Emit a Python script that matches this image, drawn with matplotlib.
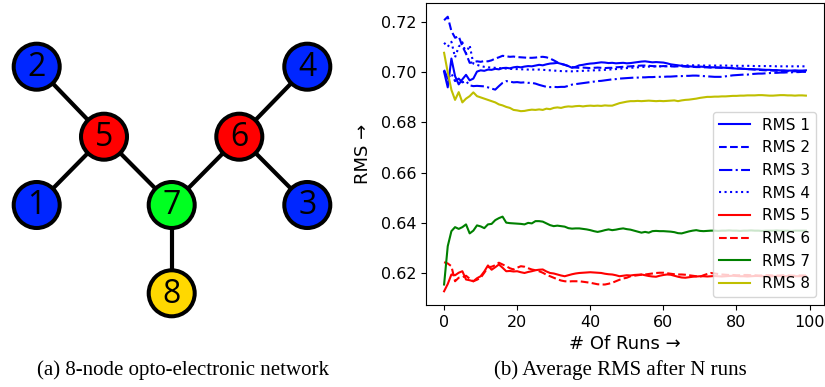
import matplotlib
matplotlib.use("Agg")
import matplotlib.pyplot as plt
from matplotlib.patches import Circle

# ---------------- data ----------------
runs = list(range(100))

rms1 = [0.7002, 0.6940, 0.7055, 0.6985, 0.6952, 0.6972, 0.6990, 0.6968, 0.6975, 0.7003,
        0.7008, 0.7006, 0.7011, 0.7010, 0.7014, 0.7012, 0.7017, 0.7018, 0.7016, 0.7020,
        0.7022, 0.7020, 0.7023, 0.7025, 0.7024, 0.7027, 0.7030, 0.7028, 0.7032, 0.7035,
        0.7036, 0.7038, 0.7034, 0.7030, 0.7025, 0.7018, 0.7022, 0.7028, 0.7030, 0.7033,
        0.7035, 0.7036, 0.7038, 0.7040, 0.7039, 0.7037, 0.7038, 0.7036, 0.7037, 0.7038,
        0.7036, 0.7037, 0.7039, 0.7041, 0.7043, 0.7044, 0.7042, 0.7040, 0.7041, 0.7040,
        0.7039, 0.7036, 0.7032, 0.7030, 0.7028, 0.7026, 0.7025, 0.7024, 0.7023, 0.7022,
        0.7023, 0.7022, 0.7021, 0.7020, 0.7020, 0.7019, 0.7019, 0.7018, 0.7017, 0.7016,
        0.7015, 0.7015, 0.7014, 0.7013, 0.7013, 0.7012, 0.7012, 0.7011, 0.7010, 0.7010,
        0.7009, 0.7009, 0.7008, 0.7008, 0.7007, 0.7007, 0.7008, 0.7007, 0.7007, 0.7008]

rms2 = [0.7208, 0.7222, 0.7165, 0.7138, 0.7144, 0.7104, 0.7075, 0.7038, 0.7040, 0.7044,
        0.7042, 0.7045, 0.7044, 0.7048, 0.7055, 0.7060, 0.7066, 0.7064, 0.7062, 0.7063,
        0.7061, 0.7060, 0.7059, 0.7058, 0.7058, 0.7059, 0.7061, 0.7062, 0.7060, 0.7055,
        0.7048, 0.7040, 0.7034, 0.7030, 0.7025, 0.7021, 0.7019, 0.7018, 0.7019, 0.7018,
        0.7017, 0.7018, 0.7019, 0.7018, 0.7017, 0.7018, 0.7018, 0.7020, 0.7021, 0.7022,
        0.7023, 0.7024, 0.7025, 0.7026, 0.7027, 0.7027, 0.7026, 0.7025, 0.7024, 0.7024,
        0.7025, 0.7024, 0.7024, 0.7023, 0.7024, 0.7024, 0.7023, 0.7022, 0.7022, 0.7021,
        0.7021, 0.7020, 0.7020, 0.7019, 0.7019, 0.7019, 0.7018, 0.7018, 0.7018, 0.7017,
        0.7016, 0.7015, 0.7014, 0.7013, 0.7012, 0.7011, 0.7010, 0.7009, 0.7008, 0.7008,
        0.7007, 0.7006, 0.7006, 0.7005, 0.7005, 0.7004, 0.7004, 0.7004, 0.7004, 0.7004]

rms3 = [0.7010, 0.6975, 0.6995, 0.6965, 0.6975, 0.6960, 0.6965, 0.6948, 0.6945, 0.6946,
        0.6945, 0.6944, 0.6940, 0.6935, 0.6931, 0.6945, 0.6958, 0.6965, 0.6963, 0.6960,
        0.6961, 0.6959, 0.6960, 0.6958, 0.6958, 0.6955, 0.6950, 0.6946, 0.6942, 0.6941,
        0.6942, 0.6941, 0.6942, 0.6942, 0.6946, 0.6951, 0.6953, 0.6955, 0.6957, 0.6959,
        0.6961, 0.6963, 0.6965, 0.6966, 0.6968, 0.6970, 0.6972, 0.6973, 0.6975, 0.6976,
        0.6977, 0.6978, 0.6979, 0.6979, 0.6980, 0.6980, 0.6981, 0.6981, 0.6982, 0.6982,
        0.6982, 0.6983, 0.6983, 0.6984, 0.6985, 0.6985, 0.6986, 0.6986, 0.6987, 0.6987,
        0.6986, 0.6985, 0.6984, 0.6983, 0.6982, 0.6982, 0.6982, 0.6984, 0.6986, 0.6988,
        0.6989, 0.6990, 0.6991, 0.6991, 0.6993, 0.6994, 0.6995, 0.6995, 0.6996, 0.6997,
        0.6998, 0.6998, 0.6999, 0.6999, 0.7000, 0.7000, 0.7001, 0.7001, 0.7002, 0.7002]

rms4 = [0.7118, 0.7102, 0.7122, 0.7060, 0.7102, 0.7120, 0.7075, 0.7108, 0.7035, 0.7030,
        0.7025, 0.7022, 0.7020, 0.7019, 0.7018, 0.7017, 0.7016, 0.7015, 0.7014, 0.7013,
        0.7013, 0.7012, 0.7012, 0.7011, 0.7011, 0.7011, 0.7011, 0.7010, 0.7009, 0.7008,
        0.7007, 0.7006, 0.7005, 0.7005, 0.7004, 0.7004, 0.7005, 0.7005, 0.7006, 0.7007,
        0.7007, 0.7008, 0.7008, 0.7009, 0.7010, 0.7011, 0.7012, 0.7013, 0.7014, 0.7016,
        0.7017, 0.7018, 0.7019, 0.7020, 0.7021, 0.7022, 0.7023, 0.7023, 0.7024, 0.7024,
        0.7024, 0.7025, 0.7025, 0.7026, 0.7026, 0.7027, 0.7027, 0.7028, 0.7028, 0.7028,
        0.7028, 0.7027, 0.7027, 0.7027, 0.7027, 0.7027, 0.7027, 0.7027, 0.7027, 0.7026,
        0.7026, 0.7026, 0.7026, 0.7026, 0.7026, 0.7025, 0.7025, 0.7025, 0.7025, 0.7025,
        0.7025, 0.7024, 0.7024, 0.7024, 0.7024, 0.7024, 0.7024, 0.7024, 0.7024, 0.7024]

rms5 = [0.6126, 0.6155, 0.6193, 0.6190, 0.6200, 0.6206, 0.6173, 0.6170, 0.6166, 0.6178,
        0.6186, 0.6205, 0.6229, 0.6212, 0.6222, 0.6233, 0.6220, 0.6206, 0.6207, 0.6205,
        0.6206, 0.6202, 0.6199, 0.6203, 0.6206, 0.6210, 0.6212, 0.6213, 0.6205, 0.6199,
        0.6197, 0.6193, 0.6189, 0.6186, 0.6190, 0.6194, 0.6197, 0.6199, 0.6200, 0.6201,
        0.6202, 0.6201, 0.6200, 0.6199, 0.6196, 0.6194, 0.6193, 0.6190, 0.6186, 0.6188,
        0.6190, 0.6189, 0.6191, 0.6192, 0.6193, 0.6190, 0.6187, 0.6185, 0.6184, 0.6188,
        0.6191, 0.6193, 0.6192, 0.6188, 0.6184, 0.6181, 0.6180, 0.6182, 0.6184, 0.6185,
        0.6186, 0.6186, 0.6185, 0.6186, 0.6187, 0.6186, 0.6185, 0.6186, 0.6187, 0.6188,
        0.6187, 0.6186, 0.6186, 0.6185, 0.6186, 0.6187, 0.6187, 0.6186, 0.6186, 0.6185,
        0.6186, 0.6186, 0.6187, 0.6186, 0.6186, 0.6185, 0.6186, 0.6186, 0.6186, 0.6186]

rms6 = [0.6242, 0.6237, 0.6226, 0.6166, 0.6180, 0.6182, 0.6188, 0.6176, 0.6166, 0.6172,
        0.6180, 0.6200, 0.6222, 0.6224, 0.6230, 0.6240, 0.6233, 0.6226, 0.6218, 0.6213,
        0.6220, 0.6226, 0.6224, 0.6218, 0.6213, 0.6210, 0.6206, 0.6200, 0.6192, 0.6186,
        0.6180, 0.6174, 0.6169, 0.6166, 0.6165, 0.6166, 0.6166, 0.6166, 0.6164, 0.6162,
        0.6160, 0.6157, 0.6154, 0.6153, 0.6153, 0.6156, 0.6160, 0.6166, 0.6172, 0.6177,
        0.6180, 0.6186, 0.6188, 0.6190, 0.6192, 0.6193, 0.6195, 0.6197, 0.6199, 0.6200,
        0.6200, 0.6198, 0.6196, 0.6194, 0.6193, 0.6193, 0.6192, 0.6190, 0.6188, 0.6186,
        0.6184, 0.6190, 0.6195, 0.6199, 0.6197, 0.6195, 0.6193, 0.6192, 0.6191, 0.6191,
        0.6190, 0.6190, 0.6191, 0.6191, 0.6190, 0.6190, 0.6189, 0.6189, 0.6190, 0.6190,
        0.6189, 0.6189, 0.6189, 0.6190, 0.6189, 0.6189, 0.6188, 0.6189, 0.6189, 0.6189]

rms7 = [0.6153, 0.6306, 0.6366, 0.6382, 0.6375, 0.6382, 0.6393, 0.6357, 0.6368, 0.6389,
        0.6385, 0.6378, 0.6393, 0.6395, 0.6410, 0.6418, 0.6424, 0.6400, 0.6398, 0.6397,
        0.6396, 0.6395, 0.6393, 0.6399, 0.6397, 0.6406, 0.6406, 0.6404, 0.6397, 0.6390,
        0.6386, 0.6388, 0.6386, 0.6384, 0.6378, 0.6376, 0.6377, 0.6377, 0.6375, 0.6373,
        0.6370, 0.6366, 0.6363, 0.6366, 0.6370, 0.6373, 0.6370, 0.6372, 0.6375, 0.6377,
        0.6374, 0.6372, 0.6368, 0.6364, 0.6360, 0.6363, 0.6360, 0.6366, 0.6367, 0.6366,
        0.6366, 0.6365, 0.6364, 0.6362, 0.6358, 0.6357, 0.6361, 0.6365, 0.6368, 0.6370,
        0.6367, 0.6366, 0.6367, 0.6368, 0.6368, 0.6367, 0.6368, 0.6368, 0.6369, 0.6368,
        0.6368, 0.6367, 0.6368, 0.6368, 0.6369, 0.6368, 0.6368, 0.6367, 0.6368, 0.6368,
        0.6368, 0.6369, 0.6368, 0.6368, 0.6368, 0.6367, 0.6368, 0.6368, 0.6368, 0.6368]

rms8 = [0.7078, 0.7000, 0.6930, 0.6890, 0.6921, 0.6880, 0.6895, 0.6905, 0.6920, 0.6905,
        0.6900, 0.6895, 0.6890, 0.6885, 0.6880, 0.6872, 0.6868, 0.6862, 0.6858, 0.6850,
        0.6848, 0.6845, 0.6846, 0.6849, 0.6851, 0.6850, 0.6852, 0.6850, 0.6855, 0.6853,
        0.6858, 0.6860, 0.6858, 0.6862, 0.6864, 0.6863, 0.6865, 0.6866, 0.6864, 0.6866,
        0.6867, 0.6866, 0.6867, 0.6866, 0.6868, 0.6867, 0.6867, 0.6872, 0.6877, 0.6880,
        0.6883, 0.6885, 0.6885, 0.6886, 0.6885, 0.6886, 0.6887, 0.6886, 0.6885, 0.6886,
        0.6885, 0.6886, 0.6887, 0.6888, 0.6885, 0.6888, 0.6890, 0.6891, 0.6893, 0.6895,
        0.6898, 0.6900, 0.6902, 0.6902, 0.6903, 0.6903, 0.6904, 0.6904, 0.6905, 0.6906,
        0.6906, 0.6907, 0.6907, 0.6908, 0.6908, 0.6908, 0.6909, 0.6909, 0.6908, 0.6907,
        0.6907, 0.6908, 0.6909, 0.6909, 0.6908, 0.6908, 0.6907, 0.6908, 0.6908, 0.6907]

series_labels = ["RMS 1", "RMS 2", "RMS 3", "RMS 4", "RMS 5", "RMS 6", "RMS 7", "RMS 8"]
series_values = [rms1, rms2, rms3, rms4, rms5, rms6, rms7, rms8]

# network
node_names = ["1", "2", "3", "4", "5", "6", "7", "8"]
node_x = [36.7, 36.7, 307.3, 307.3, 104.0, 239.3, 171.7, 171.7]
node_y = [205.0, 66.7, 205.0, 66.7, 136.7, 136.7, 205.0, 293.3]
node_group = ["blue", "blue", "blue", "blue", "red", "red", "green", "yellow"]
edges = [("2", "5"), ("1", "5"), ("5", "7"), ("6", "7"), ("4", "6"), ("3", "6"), ("7", "8")]

# ---------------- styles ----------------
W, H = 825, 387
fig = plt.figure(figsize=(W / 100, H / 100), dpi=100)

styles = [("b", "-"), ("b", "--"), ("b", "-."), ("b", ":"),
          ("r", "-"), ("r", "--"), ("g", "-"), ("y", "-")]

# ---- right: line chart
ax = fig.add_axes([426 / W, 1 - 305 / H, 398 / W, 302 / H])
for vals, lab, (c, ls) in zip(series_values, series_labels, styles):
    ax.plot(runs, vals, color=c, linestyle=ls, linewidth=1.5, label=lab)
ax.set_xticks([0, 20, 40, 60, 80, 100])
ax.set_yticks([0.62, 0.64, 0.66, 0.68, 0.70, 0.72])
ax.tick_params(labelsize=11.5)
ax.set_xlabel("# Of Runs \u2192", fontsize=13, labelpad=4)
ax.set_ylabel("RMS \u2192", fontsize=13, labelpad=6)
ax.legend(loc="lower right", fontsize=11, handlelength=2.0)

# ---- left: network diagram
axn = fig.add_axes([0, 1 - 330 / H, 340 / W, 330 / H])
axn.set_xlim(0, 340)
axn.set_ylim(330, 0)
axn.axis("off")
fill = {"blue": "#0026ff", "red": "#ff0000", "green": "#00ff21", "yellow": "#ffd800"}
pos = {n: (x, y) for n, x, y in zip(node_names, node_x, node_y)}
for a, b in edges:
    axn.plot([pos[a][0], pos[b][0]], [pos[a][1], pos[b][1]], color="black",
             linewidth=3.0, solid_capstyle="butt", zorder=1)
for n, x, y, g in zip(node_names, node_x, node_y, node_group):
    axn.add_patch(Circle((x, y), 23, facecolor=fill[g], edgecolor="black",
                         linewidth=2.9, zorder=2))
    axn.text(x, y + 1, n, ha="center", va="center", fontsize=23,
             family=["Open Sans", "DejaVu Sans"], color="black", zorder=3)

# ---- captions
cap_font = ["Liberation Serif", "DejaVu Serif"]
fig.text(183 / W, 1 - 370 / H, "(a) 8-node opto-electronic network",
         ha="center", va="center", fontsize=15, family=cap_font)
fig.text(620 / W, 1 - 370 / H, "(b) Average RMS after N runs",
         ha="center", va="center", fontsize=15, family=cap_font)

fig.savefig("out.png", dpi=100)
